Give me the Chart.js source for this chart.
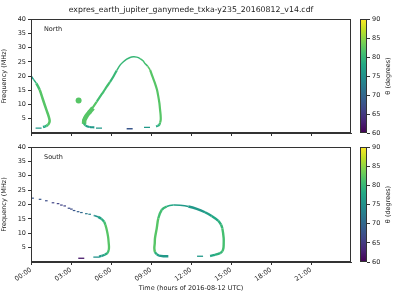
<!DOCTYPE html>
<html>
<head>
<meta charset="utf-8">
<script src="https://cdn.jsdelivr.net/npm/chart.js@4"></script>
<style>
body { margin: 0; background: #fff; }
#wrap { position: relative; width: 400px; height: 300px; }
#wrap canvas { position: absolute; }
</style>
</head>
<body>
<div id="wrap">
  <canvas id="north" width="400" height="145" style="left:0;top:0"></canvas>
  <canvas id="south" width="400" height="160" style="left:0;top:140px"></canvas>
  <canvas id="cbNorth" width="60" height="145" style="left:340px;top:0"></canvas>
  <canvas id="cbSouth" width="60" height="160" style="left:340px;top:140px"></canvas>
</div>
<script>
// ---- data (time in hours, frequency in MHz, theta in degrees)
const xTicks = [0, 3, 6, 9, 12, 15, 18, 21];
const yTicks = [5, 10, 15, 20, 25, 30, 35, 40];
const cbTicks = [60, 65, 70, 75, 80, 85, 90];

// North, first branch (00:00 - 01:30)
const n1Time  = [0.0, 0.2, 0.4, 0.65, 0.9, 1.15, 1.33, 1.4, 1.35, 1.27, 1.15, 1.03, 0.9];
const n1Freq  = [20.2, 18.8, 17.5, 15.2, 11.7, 8.2, 5.8, 4.3, 3.4, 2.9, 2.5, 2.3, 2.1];
const n1Theta = [77, 79, 81, 82, 82, 82, 82, 82, 82, 81, 79, 78, 77];

// North, big arc (04:00 - 09:45)
const n2Time  = [4.75, 4.4, 4.1, 3.95, 3.93, 4.0, 4.18, 4.4, 4.68, 4.93, 5.18, 5.43, 5.68, 5.93, 6.17, 6.43, 6.68, 6.93, 7.18, 7.43, 7.68, 7.93, 8.18, 8.4, 8.55, 8.75, 8.93, 9.1, 9.3, 9.45, 9.55, 9.63, 9.68, 9.72, 9.73, 9.68, 9.62, 9.5, 9.38];
const n2Freq  = [2.0, 2.1, 2.6, 3.4, 4.1, 5.2, 6.4, 7.8, 9.3, 11.0, 12.8, 14.5, 16.3, 18.0, 19.8, 22.0, 23.9, 25.1, 26.0, 26.6, 26.8, 26.7, 26.2, 25.4, 24.5, 23.5, 22.2, 20.0, 17.5, 15.2, 12.8, 10.5, 8.2, 6.4, 4.7, 3.6, 2.9, 2.5, 2.3];
const n2Theta = [76, 77, 80, 82, 82, 82, 82, 82, 82, 81, 81, 81, 81, 80, 80, 80, 80, 80, 80, 80, 80, 80, 81, 81, 81, 82, 82, 82, 82, 82, 82, 82, 82, 82, 82, 81, 79, 78, 77];

// North, thick lower part of the arc
const n3Time  = [3.98, 4.0, 4.15, 4.4, 4.65];
const n3Freq  = [3.2, 4.5, 5.9, 7.4, 8.8];
const n3Theta = [82, 82, 82, 82, 82];

// North, isolated spot
const nSpotTime  = [3.57];
const nSpotFreq  = [11.4];
const nSpotTheta = [82];

// North, short dashes near the bottom
const nDashTime  = [0.57, 5.1, 7.4, 8.7];
const nDashFreq  = [1.75, 1.7, 1.5, 2.0];
const nDashTheta = [76, 76, 68, 76];

// South, dotted upper branch (00:00 - 04:30)
const sDotTime  = [0.12, 0.68, 1.15, 1.65, 2.03, 2.28, 2.53, 2.85, 3.03, 3.23, 3.53, 3.78, 4.15, 4.4];
const sDotFreq  = [22.2, 21.8, 21.3, 20.6, 20.3, 19.8, 19.5, 18.7, 18.4, 17.9, 17.5, 17.2, 16.8, 16.6];
const sDotTheta = [68, 68, 67, 66, 66, 66, 66, 67, 67, 68, 69, 70, 72, 73];

// South, first branch continuous part
const s1Time  = [4.7, 4.78, 5.03, 5.28, 5.48, 5.58, 5.68, 5.78, 5.83, 5.85, 5.83, 5.73, 5.53, 5.28, 5.1];
const s1Freq  = [16.2, 16.1, 15.7, 15.0, 14.0, 12.9, 11.2, 8.8, 6.5, 5.2, 4.2, 3.1, 2.5, 2.1, 1.9];
const s1Theta = [74, 75, 77, 79, 81, 82, 82, 82, 82, 82, 81, 79, 77, 76, 76];

// South, big arc (09:15 - 14:30)
const s2Time  = [10.3, 9.93, 9.6, 9.43, 9.3, 9.25, 9.28, 9.3, 9.43, 9.55, 9.8, 10.18, 10.68, 11.18, 11.8, 12.43, 13.05, 13.55, 14.05, 14.25, 14.35, 14.45, 14.45, 14.43, 14.35, 14.18, 13.8, 13.43];
const s2Freq  = [2.0, 2.0, 2.2, 2.7, 3.5, 4.8, 6.5, 8.3, 11.7, 15.2, 18.1, 19.3, 19.8, 19.7, 19.3, 18.5, 17.3, 16.0, 14.3, 13.0, 11.7, 8.3, 6.0, 4.8, 3.8, 3.1, 2.5, 2.1];
const s2Theta = [76, 76, 77, 79, 82, 82, 82, 82, 82, 81, 80, 78, 77, 76, 76, 76, 77, 78, 79, 80, 81, 81, 81, 81, 80, 79, 78, 77];

// South, short dashes near the bottom
const sDashTime  = [3.77, 4.9, 12.68];
const sDashFreq  = [1.3, 1.7, 2.0];
const sDashTheta = [62, 75, 76];

// ---- helpers
const VIR = ['#440154', '#482475', '#414487', '#355f8d', '#2a788e', '#21918c',
             '#22a884', '#44bf70', '#7ad151', '#bddf26', '#fde725'];
function hex(c) { return [1, 3, 5].map(i => parseInt(c.substr(i, 2), 16)); }
function viridis(th) {
    let t = Math.min(1, Math.max(0, (th - 60) / 30)) * 10;
    const i = Math.min(9, Math.floor(t)), f = t - i;
    const a = hex(VIR[i]), b = hex(VIR[i + 1]);
    const c = a.map((v, k) => Math.round(v + (b[k] - v) * f));
    return 'rgb(' + c.join(',') + ')';
}
function pts(ts, fs, th) {
    return ts.map((t, i) => ({ x: t, y: fs[i], th: th[i] }));
}
// thin above `high` MHz, wider below it (the emission band widens toward low frequencies)
function curve(ts, fs, th, width, high) {
    return {
        type: 'line', data: pts(ts, fs, th), borderWidth: width, pointRadius: 0,
        tension: 0.3, fill: false,
        borderColor: viridis(th[0]),
        segment: {
            borderColor: c => viridis(c.p0.raw.th),
            borderWidth: c => (high && c.p0.raw.y > high && c.p1.raw.y > high) ? 1.5 : width
        }
    };
}
function marks(ts, fs, th, style, radius, width) {
    return {
        type: 'scatter', data: pts(ts, fs, th), pointStyle: style,
        pointRadius: radius, pointBorderWidth: width,
        pointBorderColor: c => viridis(c.raw.th),
        pointBackgroundColor: c => viridis(c.raw.th)
    };
}
function hh(v) { return (v < 10 ? '0' : '') + v + ':00'; }

const FONT = 'DejaVu Sans';
const INK = '#222';
Chart.defaults.font.family = FONT;
Chart.defaults.color = INK;
Chart.defaults.animation = false;

const frame = {
    id: 'frame',
    afterDraw(chart) {
        const a = chart.chartArea, ctx = chart.ctx;
        ctx.save();
        ctx.strokeStyle = '#333';
        ctx.lineWidth = 1;
        ctx.strokeRect(Math.round(a.left) + 0.5, Math.round(a.top) + 0.5,
            Math.round(a.right - a.left) - 1, Math.round(a.bottom - a.top) - 1);
        if (chart.options.plugins.panel) {
            ctx.fillStyle = INK;
            ctx.font = '6.5px "' + FONT + '"';
            ctx.textBaseline = 'middle';
            ctx.fillText(chart.options.plugins.panel.text, a.left + 13, a.top + 10);
        }
        ctx.restore();
    }
};

function mainChart(id, label, datasets, bottomPanel, padTop, padBottom, axisH) {
    return new Chart(document.getElementById(id), {
        data: { datasets: datasets },
        options: {
            responsive: false,
            layout: { padding: { left: 0, right: 49, top: padTop, bottom: padBottom } },
            plugins: {
                legend: { display: false },
                tooltip: { enabled: false },
                panel: { text: label },
                title: {
                    display: !bottomPanel, fullSize: false,
                    text: 'expres_earth_jupiter_ganymede_txka-y235_20160812_v14.cdf',
                    font: { size: 7.8, weight: 'normal' }, color: INK,
                    padding: { top: 5, bottom: 5 }
                }
            },
            scales: {
                x: {
                    type: 'linear', min: 0, max: 24,
                    afterBuildTicks: s => { s.ticks = xTicks.map(v => ({ value: v })); },
                    afterFit: s => { s.height = axisH; },
                    ticks: {
                        display: bottomPanel, callback: v => hh(v),
                        font: { size: 6.5 }, maxRotation: 35, minRotation: 35, padding: 1
                    },
                    grid: { drawOnChartArea: false, tickLength: 3, color: '#333' },
                    border: { color: '#333' },
                    title: {
                        display: bottomPanel, text: 'Time (hours of 2016-08-12 UTC)',
                        font: { size: 6.5 }, padding: { top: 2, bottom: 0 }
                    }
                },
                y: {
                    type: 'linear', min: 0, max: 40,
                    afterBuildTicks: s => { s.ticks = yTicks.map(v => ({ value: v })); },
                    afterFit: s => { s.width = 31; },
                    ticks: { font: { size: 6.5 }, padding: 2 },
                    grid: { drawOnChartArea: false, tickLength: 3, color: '#333' },
                    border: { color: '#333' },
                    title: { display: true, text: 'Frequency (MHz)', font: { size: 6.5 }, padding: 0 }
                }
            }
        },
        plugins: [frame]
    });
}

mainChart('north', 'North', [
    curve(n1Time, n1Freq, n1Theta, 2.5, 17),
    curve(n2Time, n2Freq, n2Theta, 2.2, 21),
    curve(n3Time, n3Freq, n3Theta, 4.5),
    marks(nSpotTime, nSpotFreq, nSpotTheta, 'circle', 3, 0),
    marks(nDashTime, nDashFreq, nDashTheta, 'line', 3, 1.3)
], false, 0, 0, 12);

mainChart('south', 'South', [
    marks(sDotTime, sDotFreq, sDotTheta, 'line', 1.3, 1.2),
    curve(s1Time, s1Freq, s1Theta, 2.3, 15),
    curve(s2Time, s2Freq, s2Theta, 2.4, 18.6),
    marks(sDashTime, sDashFreq, sDashTheta, 'line', 3, 1.3)
], true, 7, 8, 30);

// ---- colour bars
const cbTitle = {
    id: 'cbTitle',
    afterDraw(chart) {
        const a = chart.chartArea, ctx = chart.ctx;
        ctx.save();
        ctx.fillStyle = INK;
        ctx.font = '6.5px "' + FONT + '"';
        ctx.textAlign = 'center';
        ctx.textBaseline = 'middle';
        ctx.translate(48, (a.top + a.bottom) / 2);
        ctx.rotate(-Math.PI / 2);
        ctx.fillText('\u03b8 (degrees)', 0, 0);
        ctx.restore();
    }
};

function colourBar(id, padTop, padBottom) {
    return new Chart(document.getElementById(id), {
        type: 'bar',
        data: {
            labels: ['theta'],
            datasets: [{
                data: [[cbTicks[0], cbTicks[cbTicks.length - 1]]],
                barPercentage: 1, categoryPercentage: 1, borderWidth: 0,
                backgroundColor: c => {
                    const a = c.chart.chartArea;
                    if (!a) return VIR[5];
                    const g = c.chart.ctx.createLinearGradient(0, a.bottom, 0, a.top);
                    VIR.forEach((col, i) => g.addColorStop(i / 10, col));
                    return g;
                }
            }]
        },
        options: {
            responsive: false,
            layout: { padding: { left: 20, right: 0, top: padTop, bottom: padBottom } },
            plugins: { legend: { display: false }, tooltip: { enabled: false } },
            scales: {
                x: { display: false },
                y: {
                    position: 'right', min: 60, max: 90,
                    afterBuildTicks: s => { s.ticks = cbTicks.map(v => ({ value: v })); },
                    afterFit: s => { s.width = 33; },
                    ticks: { font: { size: 6.5 }, padding: 2 },
                    grid: { drawOnChartArea: false, tickLength: 3, color: '#333' },
                    border: { display: false }
                }
            }
        },
        plugins: [frame, cbTitle]
    });
}

colourBar('cbNorth', 19, 12);
colourBar('cbSouth', 7, 38);
</script>
</body>
</html>
